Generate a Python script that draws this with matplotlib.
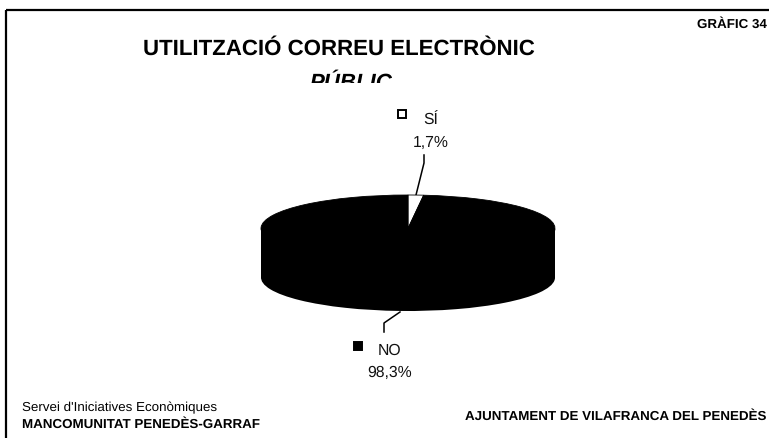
import matplotlib
matplotlib.use("Agg")
import matplotlib.pyplot as plt
from matplotlib.transforms import Bbox

plt.rcParams["font.family"] = ["Liberation Sans", "DejaVu Sans"]
plt.rcParams["text.hinting"] = "none"

categories = ["SÍ", "NO"]
values = [1.7, 98.3]
slice_colors = ["white", "black"]

W, H = 769, 438
fig = plt.figure(figsize=(W / 100, H / 100), dpi=100)

# calque en pixels pour le cadre, les textes et les traits de rappel
over = fig.add_axes([0, 0, 1, 1])
over.set_xlim(0, W)
over.set_ylim(H, 0)
over.axis("off")

over.plot([6, W], [9.5, 9.5], color="black", lw=1.6, solid_capstyle="butt")
over.plot([6, 6], [9.5, H], color="black", lw=1.6, solid_capstyle="butt")

over.text(338.5, 49, "UTILITZACIÓ CORREU ELECTRÒNIC", fontsize=16, fontweight="bold",
          ha="center", va="center")
sub = over.text(351, 83, "PÚBLIC", fontsize=16, fontweight="bold", style="italic",
                ha="center", va="center")
sub.set_clip_on(True)
sub.set_clip_box(Bbox([[0, H - 83], [W, H]]))

over.text(767, 25, "GRÀFIC 34", fontsize=9.6, fontweight="bold", ha="right", va="center")
over.text(22, 407.5, "Servei d'Iniciatives Econòmiques", fontsize=9.6, va="center")
over.text(22, 424.5, "MANCOMUNITAT PENEDÈS-GARRAF", fontsize=9.6, fontweight="bold", va="center")
over.text(766, 416.5, "AJUNTAMENT DE VILAFRANCA DEL PENEDÈS", fontsize=9.6, fontweight="bold",
          ha="right", va="center")

# étiquettes de données
label_pos = [(431, 121, 143), (390, 350.5, 373)]
key_pos = [(402, 114), (358, 346)]
for cat, val, col, (lx, y1, y2), (kx, ky) in zip(categories, values, slice_colors, label_pos, key_pos):
    over.text(lx, y1, cat, fontsize=11.3, ha="center", va="center", color="#111111")
    over.text(lx, y2, f"{val:.1f}".replace(".", ",") + "%", fontsize=11.3, ha="center", va="center",
              color="#111111")
    over.plot([kx], [ky], marker="s", ms=5.6, mfc=col, mec="black", mew=1.4, ls="none")

over.plot([424, 424, 416], [155, 163, 195], color="black", lw=1.1)
over.plot([400, 384, 384], [312, 323, 332], color="black", lw=1.1)

# camembert "3D" : disque du bas, flanc, disque du haut
left, right, top, bottom = 261, 555, 195, 311
depth = 1.47  # en rayons verticaux
ax = fig.add_axes([left / W, 1 - bottom / H, (right - left) / W, (bottom - top) / H])
ax.pie(values, startangle=90, counterclock=False, colors=["black", "black"], center=(0, -depth), radius=1)
ax.bar(0, depth, width=2, bottom=-depth, color="black", linewidth=0)
ax.pie(values, startangle=90, counterclock=False, colors=slice_colors, center=(0, 0), radius=1,
       wedgeprops={"edgecolor": "black", "linewidth": 0.6})
ax.set_aspect("auto")
ax.set_xlim(-1, 1)
ax.set_ylim(-1 - depth, 1)
ax.axis("off")

fig.savefig("out.png", dpi=100, facecolor="white")
